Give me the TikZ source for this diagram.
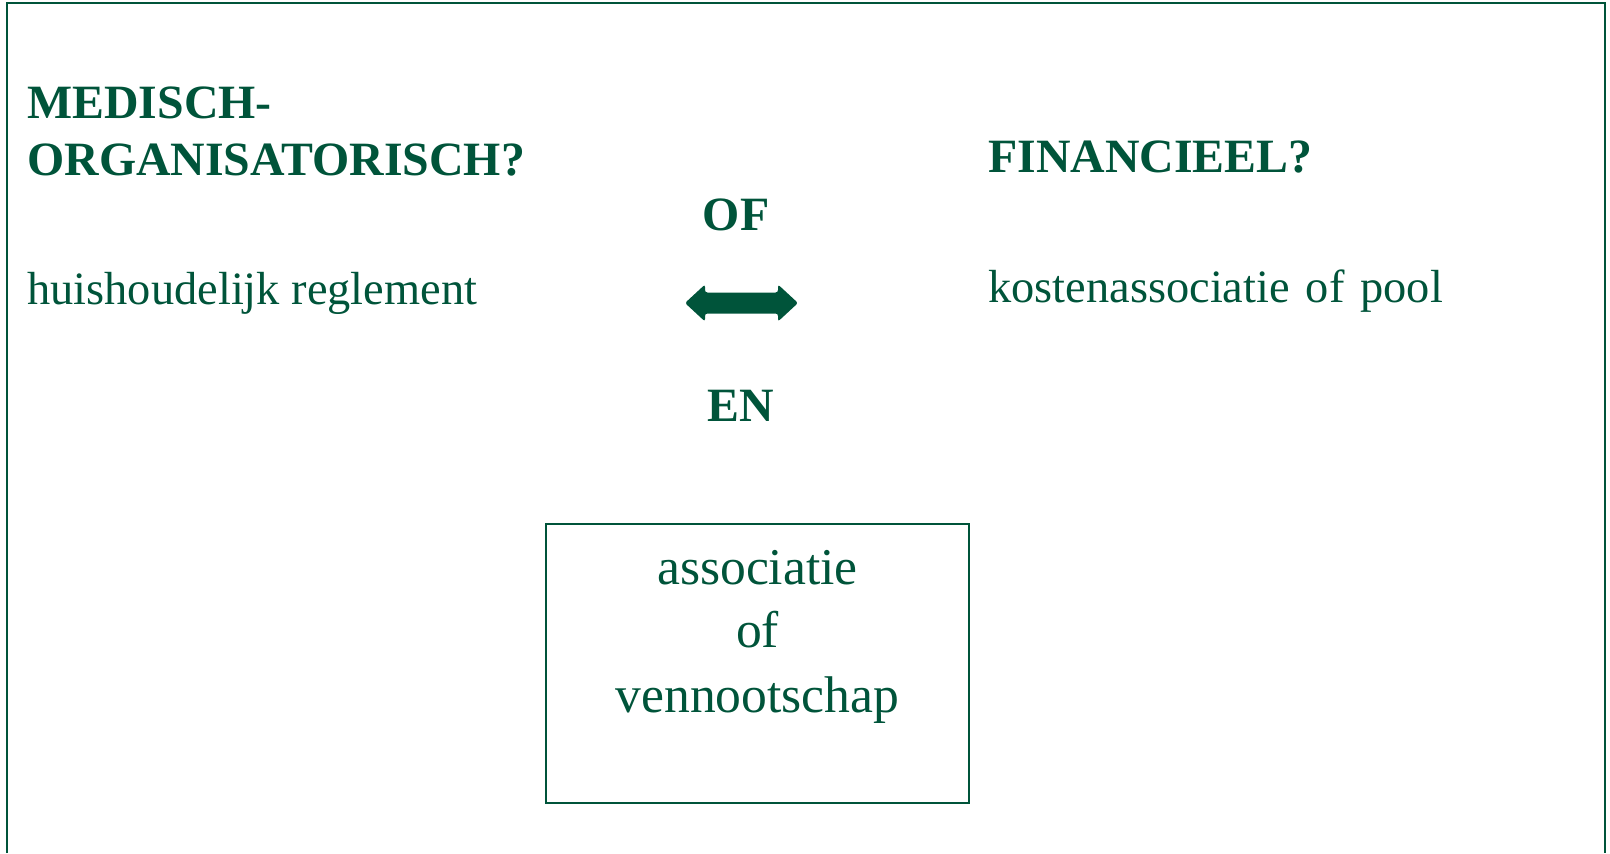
\documentclass[tikz,border=0pt]{standalone}
\usepackage{fontspec}
\setmainfont{Liberation Serif}
\definecolor{dgreen}{RGB}{0,84,58}
\tikzset{
  head/.style={font=\fontsize{23.9}{28}\selectfont\bfseries, text=dgreen, inner sep=0pt, anchor=base west},
  body/.style={font=\fontsize{23.2}{28}\selectfont, text=dgreen, inner sep=0pt, anchor=base west},
  boxline/.style={font=\fontsize{25.8}{30}\selectfont, text=dgreen, inner sep=0pt, anchor=base},
}
\begin{document}
\begin{tikzpicture}[x=0.5pt,y=-0.5pt]
\useasboundingbox (0,0) rectangle (1610,853);
\draw[dgreen, line width=1pt] (7,853) -- (7,3) -- (1605,3) -- (1605,853);
%
\node[head] (med) at (27,118) {MEDISCH-};
\node[head] (org) at (27,175) {ORGANISATORISCH?};
\node[body] (huis) at (27,304) {huishoudelijk reglement};
%
\node[head] (fin) at (988,172) {FINANCIEEL?};
\node[body] (kost) at (988,302) {\spaceskip=8pt kostenassociatie of pool};
%
\node[head, anchor=base] (of) at (736,230) {OF};
\node[head, anchor=base] (en) at (741,421) {EN};
\coordinate (arr) at (741.5,303);
\fill[dgreen, rounded corners=1.2pt] (685,303) -- (705,284.5) -- (705,292.5) -- (778,292.5) -- (778,284.5) -- (798,303) -- (778,321.5) -- (778,313.5) -- (705,313.5) -- (705,321.5) -- cycle;
%
\node[draw=dgreen, line width=1pt, minimum width=211.5pt, minimum height=139.5pt, inner sep=0pt] (assoc) at (757.5,663.5) {};
\node[boxline] (l1) at (757.5,584) {associatie};
\node[boxline] (l2) at (757.5,647) {of};
\node[boxline] (l3) at (757.5,712) {vennootschap};
\end{tikzpicture}
\end{document}
